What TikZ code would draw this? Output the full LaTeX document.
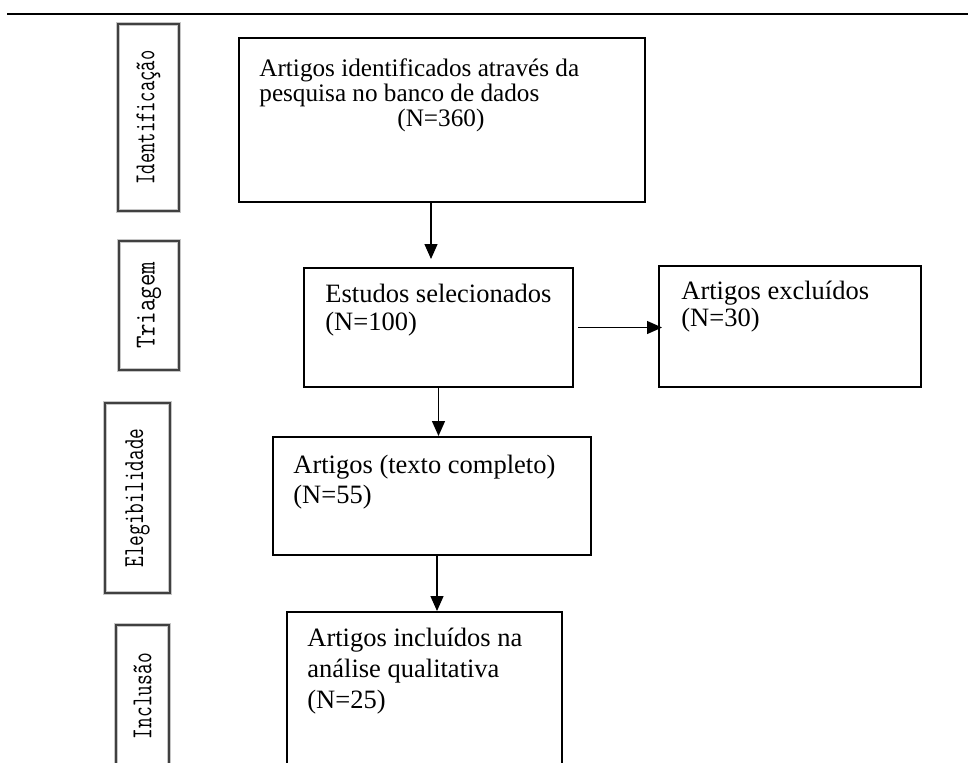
\documentclass[tikz,border=0pt]{standalone}
\usepackage{fontspec}
\setmainfont{Liberation Serif}
\usepackage{tikz}
\usetikzlibrary{arrows.meta,calc}
\newcommand{\tightlines}{\lineskiplimit=-20pt\relax}
\tikzstyle{flowbox}=[draw, line width=1pt, inner sep=0pt]
\tikzstyle{stagebox}=[draw=black!75, line width=0.7pt, preaction={draw=gray!45, line width=2pt}, inner sep=0pt, rotate=90, font=\ttfamily\fontsize{14.5}{14.5}\selectfont]
\tikzstyle{flowarrow}=[line width=0.65pt, -{Triangle[length=7.5pt,width=6.5pt]}]
\tikzset{flowtext/.style={anchor=north west, inner sep=0pt, align=left, font={\fontsize{13.25}{#1}\selectfont\tightlines}}}

\begin{document}
\begin{tikzpicture}[x=0.5pt,y=-0.5pt]
		\useasboundingbox (0,0) rectangle (968,762);
		\clip (0,0) rectangle (968,762);
		\coordinate (ruleL) at (7,14);
		\coordinate (ruleR) at (968,14);
		\draw[line width=1.1pt] (ruleL) -- (ruleR);
		\node[stagebox, minimum width=93.5pt, minimum height=30.5pt] (stIdent) at (148.5,117.5) {\scalebox{0.69}[1]{Identificação}};
		\node[stagebox, minimum width=64.5pt, minimum height=30pt] (stTri) at (149,305.5) {\scalebox{0.83}[1]{Triagem}};
		\node[stagebox, minimum width=95pt, minimum height=32.5pt] (stEleg) at (137.5,498) {\scalebox{0.716}[1]{Elegibilidade}};
		\node[stagebox, minimum width=71pt, minimum height=26.5pt] (stIncl) at (142.5,696) {\scalebox{0.72}[1]{Inclusão}};
		\node[flowbox, minimum width=203pt, minimum height=82pt] (found) at (442,120) {};
		\node[flowbox, minimum width=134.5pt, minimum height=59.5pt] (screen) at (438.5,327.5) {};
		\node[flowbox, minimum width=131pt, minimum height=60.5pt] (excl) at (790,326.5) {};
		\node[flowbox, minimum width=159pt, minimum height=59pt] (full) at (432,496) {};
		\node[flowbox, minimum width=137.5pt, minimum height=79pt] (incl) at (424.5,691) {};
		\node[flowtext=12.5pt, font=\fontsize{12.6}{12.5}\selectfont\tightlines] (foundT) at ($(found.north west)+(21,21)$) {Artigos identificados através da\\pesquisa no banco de dados\\\hspace*{69pt}(N=360)};
		\node[flowtext=14pt] (screenT) at ($(screen.north west)+(22,17)$) {Estudos selecionados\\(N=100)};
		\node[flowtext=13.5pt] (exclT) at ($(excl.north west)+(23,16)$) {Artigos excluídos\\(N=30)};
		\node[flowtext=15pt] (fullT) at ($(full.north west)+(21,19)$) {Artigos (texto completo)\\(N=55)};
		\node[flowtext=15.5pt] (inclT) at ($(incl.north west)+(21,17)$) {Artigos incluídos na\\análise qualitativa\\(N=25)};
		\draw[flowarrow] ([xshift=-5.5pt]found.south) -- ([xshift=-3.75pt,yshift=4pt]screen.north);
		\draw[flowarrow] ([xshift=2pt]screen.east) -- ([xshift=2pt]screen.east -| excl.west);
		\draw[flowarrow] (screen.south) -- (screen.south |- full.north);
		\draw[flowarrow] ([xshift=2.5pt]full.south) -- ([xshift=2.5pt]full.south |- incl.north);
\end{tikzpicture}
\end{document}
